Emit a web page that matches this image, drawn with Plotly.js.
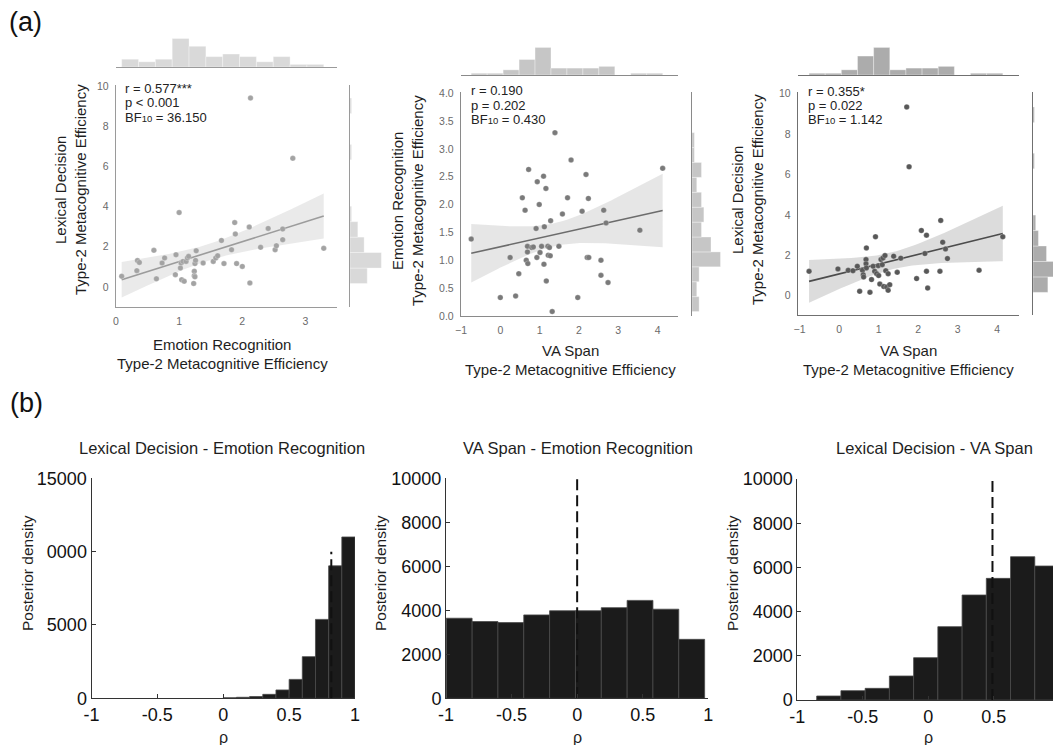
<!DOCTYPE html>
<html><head><meta charset="utf-8">
<script src="https://cdn.plot.ly/plotly-3.0.1.min.js"></script>
<style>html,body{margin:0;padding:0;background:#fff;overflow:hidden}#chart{width:1053px;height:745px}</style>
</head><body><div id="chart"></div>
<script>
// ---------------- data ----------------
// (a) left: x = Emotion Recognition, y = Lexical Decision
const p1_emotion = [1.0,0.09,0.33,0.34,0.37,0.6,0.64,0.73,0.77,0.94,0.95,1.02,1.03,1.06,1.04,1.08,1.11,1.13,1.15,1.24,1.24,1.25,1.26,1.27,1.25,1.23,1.38,1.54,1.58,1.61,1.67,1.71,1.83,1.88,1.89,1.91,2.0,2.11,2.12,2.29,2.41,2.52,2.54,2.64,2.64,3.29,2.13,2.8];
const p1_lexical = [3.7,0.53,0.81,1.31,1.22,1.82,0.40,1.19,1.44,0.61,1.6,0.94,1.19,1.27,0.36,0.28,1.27,1.44,1.52,0.78,0.56,1.16,1.32,1.8,0.5,0.17,1.19,1.27,1.44,1.55,2.31,1.16,1.85,3.2,2.63,1.16,1.02,2.98,0.2,1.97,2.91,1.85,2.05,2.88,2.35,1.92,9.4,6.4];
// (a) middle: x = VA Span, y = Emotion Recognition
const p2_vaspan = [-0.74,0.0,0.25,0.39,0.47,0.56,0.63,0.66,0.69,0.7,0.72,0.69,0.8,0.84,0.91,0.93,0.94,0.99,1.01,1.05,1.1,1.11,1.12,1.16,1.17,1.21,1.22,1.25,1.27,1.28,1.32,1.39,1.49,1.58,1.71,1.8,1.97,2.08,2.18,2.21,2.24,2.25,2.56,2.56,2.63,2.69,2.74,3.55,4.13];
const p2_emotion = [1.38,0.33,1.05,0.36,0.76,2.12,1.9,1.0,1.25,0.94,2.63,1.15,1.23,1.24,1.57,1.05,2.41,2.0,1.14,1.25,2.51,0.93,1.6,2.29,0.63,1.25,1.09,1.23,1.08,1.71,0.08,3.29,1.25,1.83,2.12,2.8,0.33,1.88,2.54,1.05,2.11,1.05,1.0,0.73,1.9,1.67,0.6,1.54,2.65];
// (a) right: x = VA Span, y = Lexical Decision
const p3_vaspan = [-0.76,-0.03,0.23,0.35,0.46,0.52,0.59,0.61,0.62,0.68,0.69,0.68,0.69,0.78,0.82,0.86,0.92,0.9,0.95,0.99,1.0,1.03,1.06,1.09,1.11,1.13,1.16,1.18,1.2,1.24,1.24,1.28,1.38,1.47,1.56,1.96,2.08,2.17,2.21,2.21,2.24,2.55,2.57,2.62,2.69,2.74,3.54,4.14,1.71,1.77];
const p3_lexical = [1.21,1.33,1.26,1.24,1.46,0.22,1.26,1.04,0.93,1.79,2.37,1.58,1.38,0.17,0.8,1.46,2.92,1.21,1.09,1.49,1.0,0.58,1.79,1.54,1.87,0.46,1.99,1.24,0.43,1.09,0.27,0.55,1.96,1.16,1.86,0.85,3.23,2.09,1.21,3.0,0.38,1.21,3.73,2.65,2.32,1.84,1.26,2.92,9.34,6.38];

const BF = 'BF<span style="font-size:9.5px">10</span>';
const p1_stats = ["r = 0.577***", "p < 0.001", BF + " = 36.150"];
const p2_stats = ["r = 0.190", "p = 0.202", BF + " = 0.430"];
const p3_stats = ["r = 0.355*", "p = 0.022", BF + " = 1.142"];

const p1_xtitle = ["Emotion Recognition", "Type-2 Metacognitive Efficiency"];
const p1_ytitle = ["Lexical Decision", "Type-2 Metacognitive Efficiency"];
const p2_xtitle = ["VA Span", "Type-2 Metacognitive Efficiency"];
const p2_ytitle = ["Emotion Recognition", "Type-2 Metacognitive Efficiency"];
const p3_xtitle = ["VA Span", "Type-2 Metacognitive Efficiency"];
const p3_ytitle = ["Lexical Decision", "Type-2 Metacognitive Efficiency"];

// (b) posterior histograms of rho
const post_titles = ["Lexical Decision - Emotion Recognition", "VA Span - Emotion Recognition", "Lexical Decision - VA Span"];
const post1_start = 0.0,    post1_width = 0.1;
const post1_counts = [40, 70, 120, 270, 570, 1290, 2840, 5380, 9030, 11000];
const post2_start = -0.998, post2_width = 0.197;
const post2_counts = [3640, 3490, 3440, 3790, 3980, 3980, 4120, 4450, 4050, 2680];
const post3_start = -0.852, post3_width = 0.185;
const post3_counts = [181, 422, 528, 1086, 1915, 3318, 4750, 5504, 6484, 6062];
const post_medians = [0.82, 0.0, 0.49];
const median_line_top = 10000;
const rho_tickvals = [-1, -0.5, 0, 0.5, 1];
const rho_ticktext = ["-1", "-0.5", "0", "0.5", "1"];
const post1_yticks = [0, 5000, 10000, 15000];
const post1_yticktext = ["0", "5000", "0000", "15000"];
const post_yticks = [0, 2000, 4000, 6000, 8000, 10000];

// ---------------- helpers ----------------
const W = 1053, H = 745;
const PX = v => v / W;
const PY = v => 1 - v / H;
const FONT = "Liberation Sans, Arial, Helvetica, sans-serif";

function fitBand(xs, ys) {
  const n = xs.length;
  const mx = xs.reduce((a, b) => a + b, 0) / n;
  const my = ys.reduce((a, b) => a + b, 0) / n;
  let sxx = 0, sxy = 0;
  for (let i = 0; i < n; i++) { sxx += (xs[i] - mx) ** 2; sxy += (xs[i] - mx) * (ys[i] - my); }
  const b = sxy / sxx, a = my - b * mx;
  let sse = 0;
  for (let i = 0; i < n; i++) sse += (ys[i] - a - b * xs[i]) ** 2;
  const s = Math.sqrt(sse / (n - 2)), t = 2.01;
  const lo = Math.min(...xs), hi = Math.max(...xs);
  const gx = [], gy = [], up = [], dn = [];
  for (let k = 0; k <= 60; k++) {
    const x = lo + (hi - lo) * k / 60;
    const yh = a + b * x;
    const se = s * Math.sqrt(1 / n + (x - mx) ** 2 / sxx);
    gx.push(x); gy.push(yh); up.push(yh + t * se); dn.push(yh - t * se);
  }
  return {gx, gy, up, dn};
}
function bins12(arr) {
  const mn = Math.min(...arr), mx = Math.max(...arr);
  const size = (mx - mn) / 12 * 1.0001;
  return {start: mn, end: mn + 12 * size, size: size};
}
function centers(start, width, counts) { return counts.map((_, i) => start + (i + 0.5) * width); }

// ---------------- panels (a) ----------------
const panels = [
  {x: p1_emotion, y: p1_lexical, stats: p1_stats, xt: p1_xtitle, yt: p1_ytitle,
   xd: [116, 337], yd: [85, 307], xr: [0, 3.5], yr: [-1, 10.05], xtv: [0,1,2,3], ytv: [0,2,4,6,8,10], ytf: "",
   topd: [37, 67], rightd: [350, 383], rightRange: null,
   pt: "#a3a3a3", ln: "#9c9c9c", band: "rgba(150,150,150,0.2)", hist: "#d9d9d9", axc: "#9a9a9a",
   statX: 123, statY: [89, 103, 117], xtX: 222, xtY: [344, 363], ytX: [60, 80], ytY: 190},
  {x: p2_vaspan, y: p2_emotion, stats: p2_stats, xt: p2_xtitle, yt: p2_ytitle,
   xd: [461, 678], yd: [92, 316], xr: [-1, 4.52], yr: [0, 4.02], xtv: [-1,0,1,2,3,4], ytv: [0,0.5,1,1.5,2,2.5,3,3.5,4], ytf: ".1f",
   topd: [46, 75], rightd: [692, 722], rightRange: null,
   pt: "#7a7a7a", ln: "#6c6c6c", band: "rgba(150,150,150,0.24)", hist: "#c6c6c6", axc: "#8a8a8a",
   statX: 469, statY: [90, 105, 119], xtX: 570, xtY: [350, 369], ytX: [397, 417], ytY: 201},
  {x: p3_vaspan, y: p3_lexical, stats: p3_stats, xt: p3_xtitle, yt: p3_ytitle,
   xd: [798, 1019], yd: [92, 315], xr: [-1.04, 4.55], yr: [-0.95, 10.08], xtv: [-1,0,1,2,3,4], ytv: [0,2,4,6,8,10], ytf: "",
   topd: [46, 75], rightd: [1033, 1053], rightRange: [0, 14.8],
   pt: "#585858", ln: "#4c4c4c", band: "rgba(140,140,140,0.3)", hist: "#acacac", axc: "#707070",
   statX: 806, statY: [91, 105, 120], xtX: 908, xtY: [350, 369], ytX: [737, 757], ytY: 200}
];

const traces = [];
const layout = {
  width: W, height: H, margin: {l: 0, r: 0, t: 0, b: 0},
  paper_bgcolor: "#fff", plot_bgcolor: "rgba(0,0,0,0)",
  showlegend: false, font: {family: FONT, color: "#222"},
  annotations: [], bargap: 0
};
const ann = (text, x, y, opt) => layout.annotations.push(Object.assign({
  text, x: PX(x), y: PY(y), xref: "paper", yref: "paper", showarrow: false,
  xanchor: "center", yanchor: "middle", font: {family: FONT, size: 15, color: "#1e1e1e"}
}, opt || {}));

panels.forEach((p, i) => {
  const m = i + 1, top = i + 4, rt = i + 7;
  const xs = m === 1 ? "" : String(m);
  const f = fitBand(p.x, p.y);
  traces.push({type: "scatter", mode: "lines", x: f.gx.concat(f.gx.slice().reverse()), y: f.up.concat(f.dn.slice().reverse()),
    fill: "toself", fillcolor: p.band, line: {width: 0}, xaxis: "x" + xs, yaxis: "y" + xs, hoverinfo: "skip"});
  traces.push({type: "scatter", mode: "lines", x: f.gx, y: f.gy, line: {color: p.ln, width: 1.6},
    xaxis: "x" + xs, yaxis: "y" + xs, hoverinfo: "skip"});
  traces.push({type: "scatter", mode: "markers", x: p.x, y: p.y,
    marker: {color: p.pt, size: 5.5, line: {color: "rgba(255,255,255,0.6)", width: 0.4}},
    xaxis: "x" + xs, yaxis: "y" + xs});
  traces.push({type: "histogram", x: p.x, xbins: bins12(p.x), xaxis: "x" + top, yaxis: "y" + top,
    marker: {color: p.hist, line: {color: "rgba(255,255,255,0.55)", width: 0.6}}, hoverinfo: "skip"});
  traces.push({type: "histogram", y: p.y, ybins: bins12(p.y), xaxis: "x" + rt, yaxis: "y" + rt,
    marker: {color: p.hist, line: {color: "rgba(255,255,255,0.55)", width: 0.6}}, hoverinfo: "skip"});

  const tf = {family: FONT, size: 10.5, color: "#6a6a6a"};
  layout["xaxis" + xs] = {domain: [PX(p.xd[0]), PX(p.xd[1])], range: p.xr, anchor: "y" + xs,
    showline: true, linecolor: p.axc, linewidth: 1.2, showgrid: false, zeroline: false,
    ticks: "outside", ticklen: 4, tickcolor: "rgba(0,0,0,0)", tickvals: p.xtv, tickfont: tf};
  layout["yaxis" + xs] = {domain: [PY(p.yd[1]), PY(p.yd[0])], range: p.yr, anchor: "x" + xs,
    showline: true, linecolor: p.axc, linewidth: 1.2, showgrid: false, zeroline: false,
    ticks: "outside", ticklen: 4, tickcolor: "rgba(0,0,0,0)", tickvals: p.ytv, tickformat: p.ytf, tickfont: tf};
  // top marginal
  layout["xaxis" + top] = {domain: [PX(p.xd[0]), PX(p.xd[1])], range: p.xr, anchor: "y" + top,
    showline: true, linecolor: p.axc, linewidth: 1.2, showgrid: false, zeroline: false, showticklabels: false, ticks: ""};
  layout["yaxis" + top] = {domain: [PY(p.topd[1]), PY(p.topd[0])], anchor: "x" + top, rangemode: "tozero",
    visible: false, showgrid: false, zeroline: false};
  // right marginal
  const rx = {domain: [PX(p.rightd[0]), PX(p.rightd[1])], anchor: "y" + rt, visible: false, showgrid: false, zeroline: false};
  if (p.rightRange) rx.range = p.rightRange; else rx.rangemode = "tozero";
  layout["xaxis" + rt] = rx;
  layout["yaxis" + rt] = {domain: [PY(p.yd[1]), PY(p.yd[0])], range: p.yr, anchor: "x" + rt,
    showline: true, linecolor: p.axc, linewidth: 1.2, showgrid: false, zeroline: false, showticklabels: false, ticks: ""};

  p.stats.forEach((s, k) => ann(s, p.statX, p.statY[k], {xanchor: "left", font: {family: FONT, size: 13, color: "#222"}}));
  p.xt.forEach((s, k) => ann(s, p.xtX, p.xtY[k]));
  p.yt.forEach((s, k) => ann(s, p.ytX[k], p.ytY, {textangle: -90}));
});

// ---------------- panels (b) ----------------
const post = [
  {start: post1_start, width: post1_width, counts: post1_counts, yr: [0, 15000], ytv: post1_yticks, ytt: post1_yticktext,
   xd: [91.5, 355], xr: [-1, 1], yd: [478.3, 698.3], titleX: 222, rhoX: 223, ylabX: 27},
  {start: post2_start, width: post2_width, counts: post2_counts, yr: [0, 10000], ytv: post_yticks, ytt: post_yticks.map(String),
   xd: [446, 708.3], xr: [-1, 1], yd: [478.3, 698.3], titleX: 578, rhoX: 577, ylabX: 380},
  {start: post3_start, width: post3_width, counts: post3_counts, yr: [0, 10000], ytv: post_yticks, ytt: post_yticks.map(String),
   xd: [797.3, 1053], xr: [-1, 0.952], yd: [479, 700], titleX: 934, rhoX: 928, ylabX: 732}
];
post.forEach((b, i) => {
  const n = i + 10;
  traces.push({type: "bar", x: centers(b.start, b.width, b.counts), y: b.counts, width: b.width,
    marker: {color: "#1b1b1b", line: {color: "#4a4a4a", width: 0.8}}, xaxis: "x" + n, yaxis: "y" + n, hoverinfo: "skip"});
  traces.push({type: "scatter", mode: "lines", x: [post_medians[i], post_medians[i]], y: [0, median_line_top],
    line: {color: "#111", width: 2, dash: "11px,5px"}, xaxis: "x" + n, yaxis: "y" + n, hoverinfo: "skip"});
  const tf = {family: FONT, size: 18, color: "#111"};
  layout["xaxis" + n] = {domain: [PX(b.xd[0]), PX(b.xd[1])], range: b.xr, anchor: "y" + n,
    showline: true, linecolor: "#333", linewidth: 1, showgrid: false, zeroline: false,
    ticks: "inside", ticklen: 4, tickcolor: "#333", tickvals: rho_tickvals, ticktext: rho_ticktext, tickfont: tf};
  layout["yaxis" + n] = {domain: [PY(b.yd[1]), PY(b.yd[0])], range: b.yr, anchor: "x" + n,
    showline: true, linecolor: "#333", linewidth: 1, showgrid: false, zeroline: false,
    ticks: "inside", ticklen: 4, tickcolor: "#333", tickvals: b.ytv, ticktext: b.ytt, tickfont: tf};
  ann(post_titles[i], b.titleX, 448, {font: {family: FONT, size: 16.5, color: "#1e1e1e"}});
  ann("ρ", b.rhoX, 737, {font: {family: FONT, size: 16, color: "#1e1e1e"}});
  ann("Posterior density", b.ylabX, 573, {textangle: -90, font: {family: FONT, size: 15.5, color: "#1e1e1e"}});
});

ann("(a)", 7, 22, {xanchor: "left", font: {family: FONT, size: 27, color: "#111"}});
ann("(b)", 8, 403, {xanchor: "left", font: {family: FONT, size: 27, color: "#111"}});

Plotly.newPlot("chart", traces, layout, {displayModeBar: false, staticPlot: true});
</script>
</body></html>
